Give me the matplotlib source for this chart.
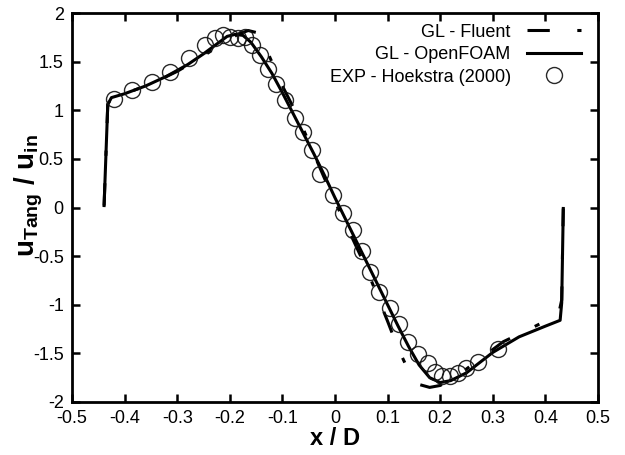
import matplotlib
matplotlib.use("Agg")
import matplotlib.pyplot as plt

plt.rcParams['font.family'] = ['Liberation Sans', 'DejaVu Sans']
plt.rcParams['mathtext.fontset'] = 'custom'
plt.rcParams['mathtext.rm'] = 'Liberation Sans'
plt.rcParams['mathtext.bf'] = 'Liberation Sans:bold'
plt.rcParams['mathtext.it'] = 'Liberation Sans:italic'

# ---- data ----
x_openfoam = [-0.439, -0.432, -0.425, -0.40, -0.36, -0.32, -0.28, -0.25, -0.225, -0.205,
              -0.19, -0.175, -0.16, -0.14, -0.12, -0.10, -0.08, -0.06, -0.04, -0.02,
              0.0, 0.02, 0.04, 0.06, 0.08, 0.10, 0.12, 0.14, 0.16, 0.18,
              0.20, 0.22, 0.25, 0.30, 0.35, 0.40, 0.428, 0.431, 0.434]
y_openfoam = [0.02, 1.06, 1.13, 1.17, 1.25, 1.35, 1.47, 1.58, 1.68, 1.76,
              1.78, 1.77, 1.70, 1.55, 1.38, 1.18, 0.97, 0.76, 0.55, 0.33,
              0.10, -0.12, -0.34, -0.56, -0.78, -1.00, -1.22, -1.43, -1.62, -1.75,
              -1.80, -1.78, -1.70, -1.49, -1.33, -1.22, -1.16, -0.98, -0.01]

x_fluent = [-0.439, -0.432, -0.425, -0.40, -0.35, -0.30, -0.25, -0.21, -0.185, -0.165,
            -0.15, -0.13, -0.10, -0.07, -0.04, -0.02, 0.0, 0.03, 0.06, 0.08,
            0.10, 0.12, 0.14, 0.16, 0.18, 0.20, 0.23, 0.27, 0.32, 0.37,
            0.41, 0.425, 0.431, 0.434]
y_fluent = [0.02, 1.06, 1.13, 1.17, 1.27, 1.40, 1.56, 1.70, 1.78, 1.82,
            1.80, 1.62, 1.25, 0.93, 0.55, 0.30, 0.06, -0.28, -0.63, -0.90,
            -1.17, -1.45, -1.68, -1.82, -1.85, -1.83, -1.74, -1.58, -1.38, -1.25,
            -1.14, -1.10, -0.95, -0.01]

x_exp = [-0.420, -0.385, -0.348, -0.314, -0.277, -0.247, -0.228, -0.213, -0.200, -0.184,
         -0.171, -0.158, -0.143, -0.127, -0.112, -0.095, -0.076, -0.061, -0.044, -0.029,
         -0.004, 0.015, 0.034, 0.051, 0.067, 0.084, 0.105, 0.122, 0.139, 0.158,
         0.177, 0.190, 0.203, 0.219, 0.234, 0.249, 0.272, 0.310]
y_exp = [1.116, 1.208, 1.290, 1.396, 1.540, 1.671, 1.740, 1.774, 1.758, 1.743,
         1.753, 1.671, 1.568, 1.424, 1.270, 1.105, 0.920, 0.776, 0.591, 0.344,
         0.129, -0.057, -0.231, -0.447, -0.663, -0.869, -1.033, -1.198, -1.383, -1.506,
         -1.599, -1.691, -1.733, -1.733, -1.702, -1.650, -1.589, -1.455]

x_ticks = [-0.5, -0.4, -0.3, -0.2, -0.1, 0, 0.1, 0.2, 0.3, 0.4, 0.5]
x_ticklabels = ['-0.5', '-0.4', '-0.3', '-0.2', '-0.1', '0', '0.1', '0.2', '0.3', '0.4', '0.5']
y_ticks = [-2, -1.5, -1, -0.5, 0, 0.5, 1, 1.5, 2]
y_ticklabels = ['-2', '-1.5', '-1', '-0.5', '0', '0.5', '1', '1.5', '2']

labels = ['GL - Fluent', 'GL - OpenFOAM', 'EXP - Hoekstra (2000)']

# ---- figure ----
fig = plt.figure(figsize=(6.25, 4.55), dpi=100)
ax = fig.add_axes([0.1152, 0.1165, 0.8416, 0.8549])

ax.plot(x_fluent, y_fluent, color='black', lw=2.2, linestyle=(0, (7.3, 9, 1.7, 9)),
        label=labels[0], zorder=3)
ax.plot(x_openfoam, y_openfoam, color='black', lw=2.2, linestyle='-',
        label=labels[1], zorder=3)
ax.plot(x_exp, y_exp, linestyle='none', marker='o', markersize=11.5,
        markerfacecolor='none', markeredgecolor='#111111', markeredgewidth=1.0,
        alpha=0.9, label=labels[2], zorder=4)

ax.set_xlim(-0.5, 0.5)
ax.set_ylim(-2, 2)
ax.set_xticks(x_ticks)
ax.set_xticklabels(x_ticklabels)
ax.set_yticks(y_ticks)
ax.set_yticklabels(y_ticklabels)
ax.tick_params(direction='in', length=6, width=1.8, top=True, right=True,
               labelsize=13, pad=6, colors='black')
for s in ax.spines.values():
    s.set_linewidth(2.0)

ax.set_xlabel('x / D', fontsize=17, fontweight='bold')
ax.xaxis.set_label_coords(0.5, -0.065)
ax.set_ylabel(r'$\mathbf{u_{Tang}}$ $\mathbf{/}$ $\mathbf{u_{in}}$', fontsize=20)
ax.yaxis.set_label_coords(-0.052, 0.53)

leg = ax.legend(loc='upper right', bbox_to_anchor=(0.992, 1.005), frameon=False,
                markerfirst=False, fontsize=13, handlelength=3.0,
                handletextpad=0.9, labelspacing=0.3, borderaxespad=0.3)
try:
    for col in leg._legend_handle_box.get_children():
        col.align = 'right'
except Exception:
    pass

fig.savefig('out.png', dpi=100)
